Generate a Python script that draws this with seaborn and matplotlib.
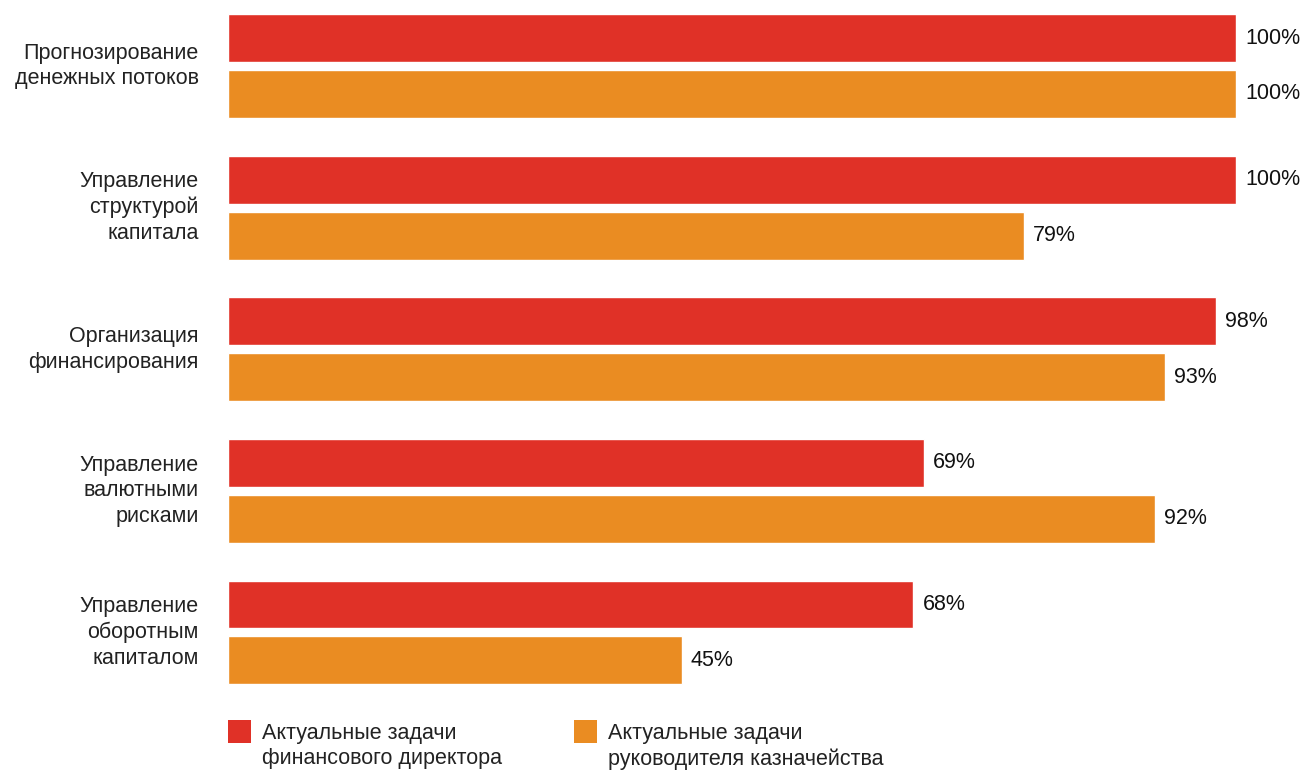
import matplotlib
matplotlib.use("Agg")
import matplotlib.pyplot as plt
from matplotlib.patches import Rectangle
import pandas as pd
import seaborn as sns

categories = [
    "Прогнозирование\nденежных потоков",
    "Управление\nструктурой\nкапитала",
    "Организация\nфинансирования",
    "Управление\nвалютными\nрисками",
    "Управление\nоборотным\nкапиталом",
]
series_names = [
    "Актуальные задачи\nфинансового директора",
    "Актуальные задачи\nруководителя казначейства",
]
cfo_values = [100, 100, 98, 69, 68]
treasury_values = [100, 79, 93, 92, 45]

colors = ["#E03127", "#EA8C22"]

df = pd.DataFrame({
    "category": categories * 2,
    "series": [series_names[0]] * len(categories) + [series_names[1]] * len(categories),
    "value": cfo_values + treasury_values,
})

sns.set_theme(style="white")
plt.rcParams["font.family"] = ["Liberation Sans", "DejaVu Sans"]

W, H = 1307, 772
FS = 15.5
fig = plt.figure(figsize=(W / 100, H / 100), dpi=100)
ax = fig.add_axes([228 / W, 1 - 700 / H, 1008 / W, 700 / H])

sns.barplot(
    data=df, x="value", y="category", hue="series", orient="h",
    palette=colors, width=0.79, gap=0.143, dodge=True,
    saturation=1, legend=False, ax=ax,
)

ax.set_xlim(0, 100)
ax.set_ylim(4.477, -0.466)
ax.set_xlabel("")
ax.set_ylabel("")
ax.set_xticks([])
for s in ax.spines.values():
    s.set_visible(False)
ax.tick_params(axis="y", length=0, pad=21, labelsize=FS, labelcolor="#222222")
for lbl in ax.get_yticklabels():
    lbl.set_linespacing(1.3)
    lbl.set_horizontalalignment("right")
    lbl.set_verticalalignment("center")

for cont in ax.containers:
    ax.bar_label(cont, labels=[f"{v:.0f}%" for v in cont.datavalues],
                 padding=6.5, fontsize=FS, color="#111111")

# legend drawn beneath the bars
legend_x = [228, 574]
for name, col, x0 in zip(series_names, colors, legend_x):
    fig.add_artist(Rectangle((x0 / W, 1 - 743 / H), 23 / W, 23 / H,
                             transform=fig.transFigure, color=col, lw=0))
    fig.text((x0 + 34) / W, 1 - 723 / H, name, fontsize=FS, color="#222222",
             va="top", ha="left", linespacing=1.25)

fig.savefig("out.png", dpi=100, facecolor="white")
